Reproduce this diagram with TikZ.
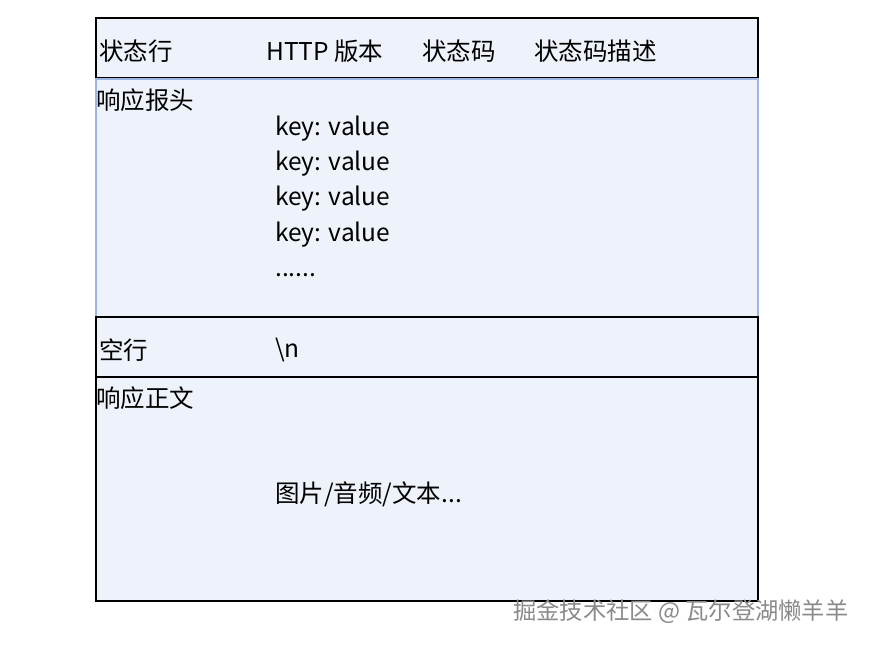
\documentclass[tikz,border=0pt]{standalone}
\usepackage{fontspec}
\setmainfont{Noto Sans CJK SC}
\definecolor{cellfill}{HTML}{EEF2FA}
\definecolor{blueline}{HTML}{9DB4E2}
\definecolor{wmgray}{HTML}{8A8A8A}
\begin{document}
\begin{tikzpicture}[x=1pt,y=-1pt,
  row/.style={fill=cellfill,line width=1.3pt},
  lbl/.style={anchor=west,inner sep=0pt,font=\fontsize{24.5}{28}\selectfont},
  wm/.style={anchor=west,inner sep=0pt,text=wmgray,font=\fontsize{23.3}{28}\selectfont}]
\useasboundingbox (0,0) rectangle (870,645);
\fill[white] (0,0) rectangle (870,645);
\draw[row,draw=black] (96,18) rectangle (758,78);
\draw[row,draw=blueline] (96,79) rectangle (758,317);
\draw[row,draw=black] (96,317) rectangle (758,377);
\draw[row,draw=black] (96,377) rectangle (758,601);
\node[lbl] (sl) at (99,51) {状态行};
\node[lbl] (ver) at (266,51) {HTTP 版本};
\node[lbl] (code) at (422,51) {状态码};
\node[lbl] (desc) at (534,51) {状态码描述};
\node[lbl] (hd) at (96,100) {响应报头};
\node[lbl] (k1) at (275,129) {key: value};
\node[lbl] (k2) at (275,164) {key: value};
\node[lbl] (k3) at (275,199) {key: value};
\node[lbl] (k4) at (275,235) {key: value};
\node[lbl] (dots) at (275,275) {......};
\node[lbl] (bl) at (99,350) {空行};
\node[lbl] (nl) at (275,350) {\textbackslash n};
\node[lbl] (bd) at (96,398) {响应正文};
\node[lbl] (bt) at (275,494) {图片/音频/文本...};
\node[wm] (wmk) at (513,612) {掘金技术社区 @ 瓦尔登湖懒羊羊};
\end{tikzpicture}
\end{document}
